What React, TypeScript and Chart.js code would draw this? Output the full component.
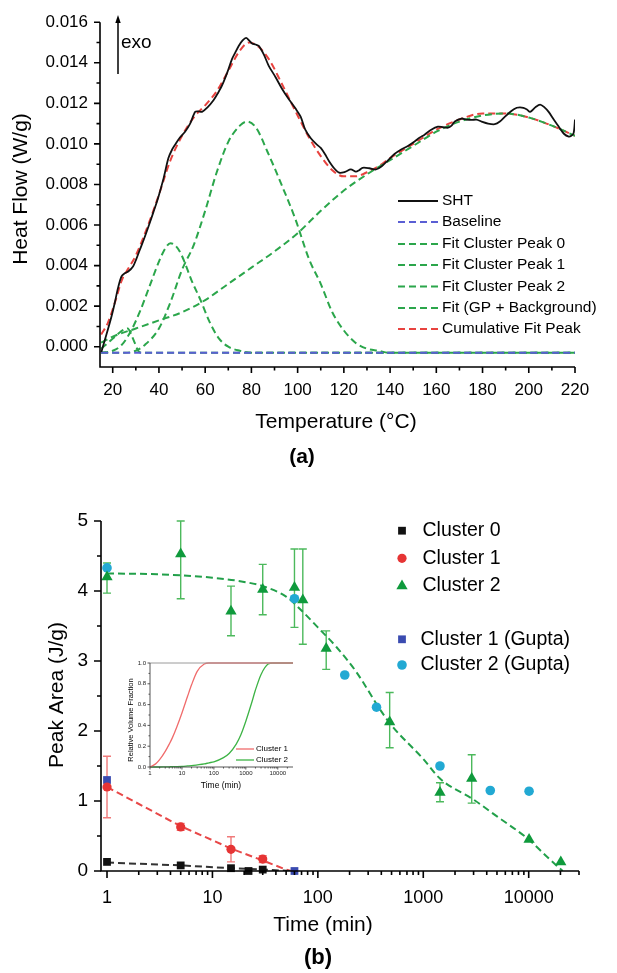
import React, { useEffect, useRef } from 'react';
import { Chart, registerables } from 'chart.js';

Chart.register(...registerables);

const FONT = '"Liberation Sans", Arial, Helvetica, sans-serif';
Chart.defaults.font.family = FONT;
Chart.defaults.color = '#000';

// ---------------- Panel (a) data ----------------
const tempTicks = [20, 40, 60, 80, 100, 120, 140, 160, 180, 200, 220];
const tempMinorTicks = [30, 50, 70, 90, 110, 130, 150, 170, 190, 210];
const flowTicks = [0, 0.002, 0.004, 0.006, 0.008, 0.01, 0.012, 0.014, 0.016];
const flowMinorTicks = [0.001, 0.003, 0.005, 0.007, 0.009, 0.011, 0.013, 0.015];
const legendA = ['SHT', 'Baseline', 'Fit Cluster Peak 0', 'Fit Cluster Peak 1', 'Fit Cluster Peak 2', 'Fit (GP + Background)', 'Cumulative Fit Peak'];

const shtTemp = [
  15.1, 16.5, 18.0, 19.5, 20.9, 22.3, 23.8, 25.2, 26.7, 28.8,
  30.2, 31.7, 33.5, 35.4, 37.5, 39.7, 42.0, 44.1, 45.6, 47.0,
  49.0, 51.3, 53.5, 55.7, 57.2, 58.6, 61.0, 63.6, 65.5, 67.3,
  69.5, 71.6, 73.0, 74.5, 76.2, 77.7, 79.0, 80.3, 81.8, 83.2,
  85.4, 87.5, 90.4, 93.3, 96.2, 99.1, 101.3, 103.3, 105.7, 108.0,
  110.0, 111.8, 113.6, 115.8, 118.0, 120.5, 123.0, 125.2, 126.6, 128.1,
  131.0, 133.9, 136.4, 139.0, 141.9, 144.8, 147.7, 150.6, 152.7, 154.9,
  157.8, 160.7, 162.9, 165.1, 166.6, 168.0, 170.9, 173.0, 175.2, 177.4,
  179.6, 182.4, 185.3, 187.5, 189.7, 192.2, 194.8, 196.2, 197.7, 199.2,
  200.6, 202.8, 204.9, 206.8, 208.6, 210.8, 213.0, 215.2, 217.3, 218.4,
  219.4, 220.0,
];
const shtFlow = [
  -0.00026, 0.0003, 0.00088, 0.0015, 0.00217, 0.0029, 0.00347, 0.00362, 0.00371, 0.00396,
  0.00432, 0.00477, 0.0053, 0.0059, 0.0066, 0.00736, 0.0083, 0.0093, 0.0097, 0.00996,
  0.0103, 0.0106, 0.011, 0.01158, 0.0116, 0.01158, 0.0118, 0.01215, 0.0125, 0.01288,
  0.0135, 0.01418, 0.0145, 0.01483, 0.0151, 0.01523, 0.0151, 0.01495, 0.0149, 0.01483,
  0.0144, 0.01385, 0.0133, 0.01271, 0.0122, 0.01174, 0.01134, 0.0107, 0.01028, 0.01,
  0.0098, 0.0095, 0.00915, 0.0088, 0.00858, 0.00862, 0.00874, 0.00863, 0.0087, 0.00882,
  0.0088, 0.00874, 0.0089, 0.00918, 0.0095, 0.00972, 0.0099, 0.01012, 0.0103, 0.01045,
  0.0107, 0.01085, 0.01082, 0.0108, 0.0109, 0.0111, 0.01125, 0.0112, 0.01118, 0.0112,
  0.0111, 0.011, 0.01097, 0.0111, 0.01134, 0.0116, 0.01178, 0.0118, 0.01178, 0.0117,
  0.01158, 0.0118, 0.01194, 0.0118, 0.01158, 0.0112, 0.01085, 0.0105, 0.01036, 0.0104,
  0.01053, 0.0112,
];
const baseTemp = [15, 220];
const baseFlow = [-0.0003, -0.0003];
const p0Temp = [15, 17, 19, 21, 23, 25, 26.5, 28, 29.5, 31, 33, 220];
const p0Flow = [-0.0001, 0.0001, 0.0003, 0.0005, 0.0007, 0.00085, 0.0009, 0.0006, 0.0002, -0.0002, -0.0003, -0.0003];
const p1Temp = [15, 20, 24, 28, 32, 36, 40, 43, 45, 47, 49, 51, 54, 58, 62, 66, 70, 75, 80, 220];
const p1Flow = [-0.0003, -0.0002, 0.0001, 0.0008, 0.0018, 0.003, 0.0042, 0.0049, 0.0051, 0.005, 0.0047, 0.0042, 0.0033, 0.0023, 0.0012, 0.0004, 0.0, -0.0002, -0.0003, -0.0003];
const p2Temp = [15, 25, 30, 34, 40, 45, 50, 55, 60, 65, 70, 75, 78, 82, 87, 93, 99, 105, 110, 115, 120, 125, 130, 135, 140, 220];
const p2Flow = [-0.0003, -0.0003, -0.0002, 0.0001, 0.0009, 0.0022, 0.0038, 0.005, 0.0067, 0.0086, 0.0101, 0.0109, 0.0111, 0.0108, 0.0096, 0.008, 0.0063, 0.0043, 0.0031, 0.0017, 0.0008, 0.0002, -0.0001, -0.0002, -0.0003, -0.0003];
const gpTemp = [15, 20, 30, 40, 50, 60, 70, 80, 90, 100, 110, 120, 130, 140, 150, 160, 170, 180, 190, 200, 210, 220];
const gpFlow = [0.0002, 0.0005, 0.0009, 0.0013, 0.0017, 0.0023, 0.0031, 0.0039, 0.0047, 0.0056, 0.0067, 0.0077, 0.0085, 0.0092, 0.0099, 0.0106, 0.0111, 0.0114, 0.0115, 0.0113, 0.0109, 0.0104];
const cumTemp = [15, 18, 21, 24, 27, 30, 35, 40, 45, 50, 55, 60, 65, 70, 75, 79, 83, 88, 93, 100, 105, 110, 115, 120, 125, 130, 135, 140, 150, 160, 170, 180, 190, 200, 210, 220];
const cumFlow = [0.0006, 0.0012, 0.0022, 0.0033, 0.0039, 0.0045, 0.0059, 0.0075, 0.0092, 0.0104, 0.0113, 0.0119, 0.0126, 0.0136, 0.0146, 0.015, 0.0148, 0.0141, 0.013, 0.0114, 0.0103, 0.0094, 0.0087, 0.0084, 0.0084, 0.0086, 0.0089, 0.0093, 0.01, 0.0107, 0.0112, 0.0115, 0.0115, 0.0113, 0.0109, 0.0104];

// ---------------- Panel (b) data ----------------
const timeTicks = [1, 10, 100, 1000, 10000];
const timeMinorTicks = [2, 3, 4, 5, 6, 7, 8, 9, 20, 30, 40, 50, 60, 70, 80, 90, 200, 300, 400, 500, 600, 700, 800, 900, 2000, 3000, 4000, 5000, 6000, 7000, 8000, 9000, 20000, 30000];
const areaTicks = [0, 1, 2, 3, 4, 5];
const areaMinorTicks = [0.5, 1.5, 2.5, 3.5, 4.5];
const legendB = ['Cluster 0', 'Cluster 1', 'Cluster 2', 'Cluster 1 (Gupta)', 'Cluster 2 (Gupta)'];

const c0Time = [1, 5, 15, 22, 30];
const c0Area = [0.13, 0.08, 0.04, 0.0, 0.02];
const c1Time = [1, 5, 15, 30];
const c1Area = [1.2, 0.63, 0.31, 0.17];
const c1Low = [0.76, 0.58, 0.13, 0.12];
const c1High = [1.64, 0.68, 0.49, 0.22];
const c2Time = [1, 5, 15, 30, 60, 72, 120, 480, 1440, 2880, 10080, 20160];
const c2Area = [4.2, 4.53, 3.71, 4.02, 4.05, 3.87, 3.18, 2.13, 1.12, 1.32, 0.45, 0.13];
const c2Low = [3.97, 3.89, 3.36, 3.66, 3.48, 3.24, 2.88, 1.76, 0.99, 0.97, 0.45, 0.13];
const c2High = [4.4, 5.0, 4.07, 4.38, 4.6, 4.6, 3.43, 2.55, 1.26, 1.66, 0.45, 0.13];
const g1Time = [1, 60];
const g1Area = [1.3, 0];
const g2Time = [1, 60, 180, 360, 1440, 4320, 10080];
const g2Area = [4.33, 3.89, 2.8, 2.34, 1.5, 1.15, 1.14];
const c0FitTime = [1, 5, 15, 30, 55];
const c0FitArea = [0.12, 0.08, 0.04, 0.02, 0.0];
const c1FitTime = [1, 5, 10, 15, 30, 50, 56];
const c1FitArea = [1.2, 0.64, 0.44, 0.32, 0.15, 0.02, 0.0];
const c2FitTime = [1, 3, 10, 20, 30, 50, 68, 100, 150, 230, 400, 500, 1000, 1440, 3000, 5000, 10000, 15000, 21000];
const c2FitArea = [4.25, 4.24, 4.19, 4.13, 4.07, 3.92, 3.74, 3.48, 3.2, 2.85, 2.28, 2.08, 1.6, 1.32, 1.02, 0.78, 0.45, 0.2, 0.0];

// ---------------- Inset data ----------------
const insetTicksX = [1, 10, 100, 1000, 10000];
const insetMinorX = [2, 3, 4, 5, 6, 7, 8, 9, 20, 30, 40, 50, 60, 70, 80, 90, 200, 300, 400, 500, 600, 700, 800, 900, 2000, 3000, 4000, 5000, 6000, 7000, 8000, 9000, 20000];
const insetTicksY = [0, 0.2, 0.4, 0.6, 0.8, 1.0];
const insetLegend = ['Cluster 1', 'Cluster 2'];
const insetTime = [1, 1.5, 2, 3, 4, 5, 7, 10, 15, 20, 30, 50, 70, 100, 200, 300, 500, 700, 1000, 1500, 2000, 3000, 5000, 7000, 10000, 30000];
const insetC1 = [0, 0.03, 0.07, 0.15, 0.22, 0.28, 0.39, 0.52, 0.68, 0.79, 0.92, 0.99, 1, 1, 1, 1, 1, 1, 1, 1, 1, 1, 1, 1, 1, 1];
const insetC2 = [0, 0, 0, 0.001, 0.002, 0.003, 0.004, 0.006, 0.01, 0.013, 0.02, 0.03, 0.04, 0.05, 0.09, 0.13, 0.22, 0.31, 0.44, 0.61, 0.74, 0.89, 0.99, 1, 1, 1];

// ---------------- helpers ----------------
const pts = (xs: number[], ys: number[]) => xs.map((x, i) => ({ x, y: ys[i] }));

function drawMarker(ctx: CanvasRenderingContext2D, style: string, x: number, y: number, r: number, color: string) {
  ctx.fillStyle = color;
  ctx.beginPath();
  if (style === 'rect') {
    const s = r * Math.SQRT1_2;
    ctx.rect(x - s, y - s, 2 * s, 2 * s);
  } else if (style === 'triangle') {
    for (let k = 0; k < 3; k++) {
      const a = (k * 2 * Math.PI) / 3;
      const px = x + Math.sin(a) * r;
      const py = y - Math.cos(a) * r;
      if (k === 0) ctx.moveTo(px, py);
      else ctx.lineTo(px, py);
    }
    ctx.closePath();
  } else {
    ctx.arc(x, y, r, 0, Math.PI * 2);
  }
  ctx.fill();
}

function drawAxes(chart: any, opts: { xMajor: number[]; xMinor: number[]; yMajor: number[]; yMinor: number[]; major: number; minor: number; width: number; color?: string }) {
  const ctx = chart.ctx as CanvasRenderingContext2D;
  const { left, right, top, bottom } = chart.chartArea;
  const xs = chart.scales.x;
  const ys = chart.scales.y;
  ctx.save();
  ctx.strokeStyle = opts.color || '#000';
  ctx.lineWidth = opts.width;
  ctx.beginPath();
  ctx.moveTo(left, top);
  ctx.lineTo(left, bottom);
  ctx.lineTo(right, bottom);
  ctx.stroke();
  ctx.beginPath();
  opts.xMajor.forEach((v) => {
    const px = xs.getPixelForValue(v);
    ctx.moveTo(px, bottom);
    ctx.lineTo(px, bottom + opts.major);
  });
  opts.xMinor.forEach((v) => {
    const px = xs.getPixelForValue(v);
    if (px < left - 0.5 || px > right + 0.5) return;
    ctx.moveTo(px, bottom);
    ctx.lineTo(px, bottom + opts.minor);
  });
  opts.yMajor.forEach((v) => {
    const py = ys.getPixelForValue(v);
    ctx.moveTo(left, py);
    ctx.lineTo(left - opts.major, py);
  });
  opts.yMinor.forEach((v) => {
    const py = ys.getPixelForValue(v);
    ctx.moveTo(left, py);
    ctx.lineTo(left - opts.minor, py);
  });
  ctx.stroke();
  ctx.restore();
}

function text(ctx: CanvasRenderingContext2D, s: string, x: number, y: number, font: string, align: CanvasTextAlign = 'center', rot = 0) {
  ctx.save();
  ctx.font = font;
  ctx.fillStyle = '#000';
  ctx.textAlign = align;
  ctx.textBaseline = 'middle';
  ctx.translate(x, y);
  if (rot) ctx.rotate(rot);
  ctx.fillText(s, 0, 0);
  ctx.restore();
}

const NO_GRID = { display: false, drawTicks: false };

// ---------------- Panel (a) ----------------
const GREEN_A = '#2ba64b';
const RED_A = '#e8433f';
const BLUE_A = '#5a5ed4';
const DASH_A = [7, 4];

const panelAPlugin = {
  id: 'panelA',
  afterDraw(chart: any) {
    const ctx = chart.ctx as CanvasRenderingContext2D;
    drawAxes(chart, { xMajor: tempTicks, xMinor: tempMinorTicks, yMajor: flowTicks, yMinor: flowMinorTicks, major: 6, minor: 3.5, width: 1.6 });
    text(ctx, 'Heat Flow (W/g)', 21, 189, `21px ${FONT}`, 'center', -Math.PI / 2);
    text(ctx, 'Temperature (°C)', 336, 422, `21px ${FONT}`);
    text(ctx, '(a)', 302, 457, `bold 21px ${FONT}`);
    // exo arrow
    ctx.save();
    ctx.strokeStyle = '#000';
    ctx.fillStyle = '#000';
    ctx.lineWidth = 1.5;
    ctx.beginPath();
    ctx.moveTo(118, 74);
    ctx.lineTo(118, 22);
    ctx.stroke();
    ctx.beginPath();
    ctx.moveTo(118, 15);
    ctx.lineTo(115.3, 23);
    ctx.lineTo(120.7, 23);
    ctx.closePath();
    ctx.fill();
    ctx.restore();
    text(ctx, 'exo', 121, 43, `19px ${FONT}`, 'left');
    // legend
    const rows = [201, 222, 244, 265, 286.5, 308, 329];
    chart.data.datasets.forEach((ds: any, i: number) => {
      const y = rows[i];
      ctx.save();
      ctx.strokeStyle = ds.borderColor;
      ctx.lineWidth = ds.borderWidth;
      ctx.setLineDash(ds.borderDash || []);
      ctx.beginPath();
      ctx.moveTo(398, y);
      ctx.lineTo(438, y);
      ctx.stroke();
      ctx.restore();
      text(ctx, legendA[i], 442, y, `15.5px ${FONT}`, 'left');
    });
  },
};

function configA(): any {
  const line = (label: string, data: any, color: string, dash: number[] | null, extra: any = {}) => ({
    label,
    data,
    borderColor: color,
    backgroundColor: color,
    borderWidth: 2,
    borderDash: dash || [],
    pointRadius: 0,
    fill: false,
    ...extra,
  });
  return {
    type: 'line',
    data: {
      datasets: [
        line(legendA[0], pts(shtTemp, shtFlow), '#111111', null, { tension: 0.3, borderWidth: 1.8 }),
        line(legendA[1], pts(baseTemp, baseFlow), BLUE_A, DASH_A),
        line(legendA[2], pts(p0Temp, p0Flow), GREEN_A, DASH_A, { cubicInterpolationMode: 'monotone' }),
        line(legendA[3], pts(p1Temp, p1Flow), GREEN_A, DASH_A, { cubicInterpolationMode: 'monotone' }),
        line(legendA[4], pts(p2Temp, p2Flow), GREEN_A, DASH_A, { cubicInterpolationMode: 'monotone' }),
        line(legendA[5], pts(gpTemp, gpFlow), GREEN_A, DASH_A, { cubicInterpolationMode: 'monotone' }),
        line(legendA[6], pts(cumTemp, cumFlow), RED_A, DASH_A, { cubicInterpolationMode: 'monotone' }),
      ],
    },
    options: {
      responsive: false,
      animation: false,
      events: [],
      layout: { padding: { left: 0, right: 42, top: 17, bottom: 0 } },
      plugins: { legend: { display: false }, tooltip: { enabled: false } },
      scales: {
        x: {
          type: 'linear',
          bounds: 'data',
          min: 14.5,
          max: 220,
          grid: NO_GRID,
          border: { display: false },
          ticks: { font: { size: 17 }, color: '#000', padding: 13, maxRotation: 0, autoSkip: false, callback: (v: number) => String(v) },
          afterBuildTicks: (s: any) => { s.ticks = tempTicks.map((v) => ({ value: v })); },
          afterFit: (s: any) => { s.height = 108; },
        },
        y: {
          type: 'linear',
          bounds: 'data',
          min: -0.001,
          max: 0.016,
          grid: NO_GRID,
          border: { display: false },
          ticks: { font: { size: 17 }, color: '#000', padding: 12, autoSkip: false, callback: (v: number) => Number(v).toFixed(3) },
          afterBuildTicks: (s: any) => { s.ticks = flowTicks.map((v) => ({ value: v })); },
          afterFit: (s: any) => { s.width = 100; },
        },
      },
    },
    plugins: [panelAPlugin],
  };
}

// ---------------- Panel (b) ----------------
const BLACK_B = '#111111';
const RED_B = '#e63434';
const GREEN_B = '#0f9a3c';
const BLUE_B = '#3a4bb0';
const CYAN_B = '#22a9d3';
const RED_ERR = '#f07a7a';
const GREEN_ERR = '#4cb95c';

const errorSets = [
  { time: c1Time, lo: c1Low, hi: c1High, color: RED_ERR },
  { time: c2Time, lo: c2Low, hi: c2High, color: GREEN_ERR },
];

const panelBPlugin = {
  id: 'panelB',
  beforeDatasetsDraw(chart: any) {
    const ctx = chart.ctx as CanvasRenderingContext2D;
    const xs = chart.scales.x;
    const ys = chart.scales.y;
    ctx.save();
    ctx.lineWidth = 1.4;
    errorSets.forEach((es) => {
      ctx.strokeStyle = es.color;
      es.time.forEach((t, i) => {
        if (es.hi[i] - es.lo[i] < 0.02) return;
        const px = xs.getPixelForValue(t);
        const pLo = ys.getPixelForValue(es.lo[i]);
        const pHi = ys.getPixelForValue(es.hi[i]);
        ctx.beginPath();
        ctx.moveTo(px, pLo);
        ctx.lineTo(px, pHi);
        ctx.moveTo(px - 4, pLo);
        ctx.lineTo(px + 4, pLo);
        ctx.moveTo(px - 4, pHi);
        ctx.lineTo(px + 4, pHi);
        ctx.stroke();
      });
    });
    ctx.restore();
  },
  afterDraw(chart: any) {
    const ctx = chart.ctx as CanvasRenderingContext2D;
    drawAxes(chart, { xMajor: timeTicks, xMinor: timeMinorTicks, yMajor: areaTicks, yMinor: areaMinorTicks, major: 7, minor: 4, width: 1.6 });
    text(ctx, 'Peak Area (J/g)', 57, 215, `21px ${FONT}`, 'center', -Math.PI / 2);
    text(ctx, 'Time (min)', 323, 445, `21px ${FONT}`);
    text(ctx, '(b)', 318, 478, `bold 22px ${FONT}`);
    const rows = [50.7, 78.3, 106, 159.3, 185];
    const tx = [422.5, 422.5, 422.5, 420.5, 420.5];
    for (let i = 0; i < 5; i++) {
      const ds = chart.data.datasets[i];
      drawMarker(ctx, ds.pointStyle, 402, rows[i], ds.pointRadius, ds.backgroundColor);
      text(ctx, legendB[i], tx[i], rows[i], `19.5px ${FONT}`, 'left');
    }
  },
};

function configB(): any {
  const pointsDs = (label: string, data: any, style: string, r: number, color: string) => ({
    label,
    data,
    showLine: false,
    pointStyle: style,
    pointRadius: r,
    pointBorderWidth: 0,
    backgroundColor: color,
    borderColor: color,
    clip: false,
  });
  const fitDs = (label: string, data: any, color: string) => ({
    label,
    data,
    borderColor: color,
    borderWidth: 2,
    borderDash: [7, 4],
    pointRadius: 0,
    tension: 0,
    fill: false,
  });
  return {
    type: 'line',
    data: {
      datasets: [
        pointsDs(legendB[0], pts(c0Time, c0Area), 'rect', 5.5, BLACK_B),
        pointsDs(legendB[1], pts(c1Time, c1Area), 'circle', 4.6, RED_B),
        pointsDs(legendB[2], pts(c2Time, c2Area), 'triangle', 6.5, GREEN_B),
        pointsDs(legendB[3], pts(g1Time, g1Area), 'rect', 5.5, BLUE_B),
        pointsDs(legendB[4], pts(g2Time, g2Area), 'circle', 4.8, CYAN_B),
        fitDs('fit 0', pts(c0FitTime, c0FitArea), '#333333'),
        fitDs('fit 1', pts(c1FitTime, c1FitArea), '#e84848'),
        { ...fitDs('fit 2', pts(c2FitTime, c2FitArea), '#22a04a'), cubicInterpolationMode: 'monotone' },
      ],
    },
    options: {
      responsive: false,
      animation: false,
      events: [],
      layout: { padding: { left: 0, right: 38, top: 41, bottom: 0 } },
      plugins: { legend: { display: false }, tooltip: { enabled: false } },
      scales: {
        x: {
          type: 'logarithmic',
          bounds: 'data',
          min: 0.877,
          max: 30000,
          grid: NO_GRID,
          border: { display: false },
          ticks: { font: { size: 18 }, color: '#000', padding: 16, maxRotation: 0, autoSkip: false, callback: (v: number) => String(v) },
          afterBuildTicks: (s: any) => { s.ticks = timeTicks.map((v) => ({ value: v })); },
          afterFit: (s: any) => { s.height = 102; },
        },
        y: {
          type: 'linear',
          bounds: 'data',
          min: 0,
          max: 5,
          grid: NO_GRID,
          border: { display: false },
          ticks: { font: { size: 19 }, color: '#000', padding: 13, autoSkip: false, callback: (v: number) => String(v) },
          afterBuildTicks: (s: any) => { s.ticks = areaTicks.map((v) => ({ value: v })); },
          afterFit: (s: any) => { s.width = 101; },
        },
      },
    },
    plugins: [panelBPlugin],
  };
}

// ---------------- Inset ----------------
const RED_I = '#f06b6b';
const GREEN_I = '#3db345';

const insetPlugin = {
  id: 'inset',
  afterDraw(chart: any) {
    const ctx = chart.ctx as CanvasRenderingContext2D;
    const { left, right, top } = chart.chartArea;
    ctx.save();
    ctx.strokeStyle = '#9a9a9a';
    ctx.lineWidth = 1;
    ctx.beginPath();
    ctx.moveTo(left, top);
    ctx.lineTo(right, top);
    ctx.stroke();
    ctx.restore();
    drawAxes(chart, { xMajor: insetTicksX, xMinor: insetMinorX, yMajor: insetTicksY, yMinor: [0.1, 0.3, 0.5, 0.7, 0.9], major: 2.5, minor: 1.5, width: 0.9, color: '#444' });
    text(ctx, 'Relative Volume Fraction', 31, 80, `7.5px ${FONT}`, 'center', -Math.PI / 2);
    text(ctx, 'Time (min)', 121, 146, `8.5px ${FONT}`);
    const rows = [109, 120];
    chart.data.datasets.forEach((ds: any, i: number) => {
      ctx.save();
      ctx.strokeStyle = ds.borderColor;
      ctx.lineWidth = 1.3;
      ctx.beginPath();
      ctx.moveTo(136, rows[i]);
      ctx.lineTo(154, rows[i]);
      ctx.stroke();
      ctx.restore();
      text(ctx, insetLegend[i], 156, rows[i], `8px ${FONT}`, 'left');
    });
  },
};

function configI(): any {
  const ds = (label: string, data: any, color: string) => ({
    label,
    data,
    borderColor: color,
    borderWidth: 1.3,
    pointRadius: 0,
    cubicInterpolationMode: 'monotone',
    fill: false,
    clip: false,
  });
  return {
    type: 'line',
    data: {
      datasets: [ds(insetLegend[0], pts(insetTime, insetC1), RED_I), ds(insetLegend[1], pts(insetTime, insetC2), GREEN_I)],
    },
    options: {
      responsive: false,
      animation: false,
      events: [],
      layout: { padding: { left: 0, right: 17, top: 23, bottom: 0 } },
      plugins: { legend: { display: false }, tooltip: { enabled: false } },
      scales: {
        x: {
          type: 'logarithmic',
          bounds: 'data',
          min: 1,
          max: 30000,
          grid: NO_GRID,
          border: { display: false },
          ticks: { font: { size: 6 }, color: '#222', padding: 3, maxRotation: 0, autoSkip: false, callback: (v: number) => String(v) },
          afterBuildTicks: (s: any) => { s.ticks = insetTicksX.map((v) => ({ value: v })); },
          afterFit: (s: any) => { s.height = 33; },
        },
        y: {
          type: 'linear',
          bounds: 'data',
          min: 0,
          max: 1,
          grid: NO_GRID,
          border: { display: false },
          ticks: { font: { size: 6 }, color: '#222', padding: 4, autoSkip: false, callback: (v: number) => Number(v).toFixed(1) },
          afterBuildTicks: (s: any) => { s.ticks = insetTicksY.map((v) => ({ value: v })); },
          afterFit: (s: any) => { s.width = 50; },
        },
      },
    },
    plugins: [insetPlugin],
  };
}

export default function App() {
  const aRef = useRef<HTMLCanvasElement>(null);
  const bRef = useRef<HTMLCanvasElement>(null);
  const iRef = useRef<HTMLCanvasElement>(null);
  useEffect(() => {
    const charts = [
      new Chart(aRef.current as HTMLCanvasElement, configA()),
      new Chart(bRef.current as HTMLCanvasElement, configB()),
      new Chart(iRef.current as HTMLCanvasElement, configI()),
    ];
    return () => charts.forEach((c) => c.destroy());
  }, []);
  return (
    <div style={{ position: 'absolute', left: 0, top: 0, width: 617, height: 973, background: '#fff', overflow: 'hidden' }}>
      <canvas ref={aRef} width={617} height={475} style={{ position: 'absolute', left: 0, top: 0 }} />
      <canvas ref={bRef} width={617} height={493} style={{ position: 'absolute', left: 0, top: 480 }} />
      <canvas ref={iRef} width={210} height={160} style={{ position: 'absolute', left: 100, top: 640 }} />
    </div>
  );
}
